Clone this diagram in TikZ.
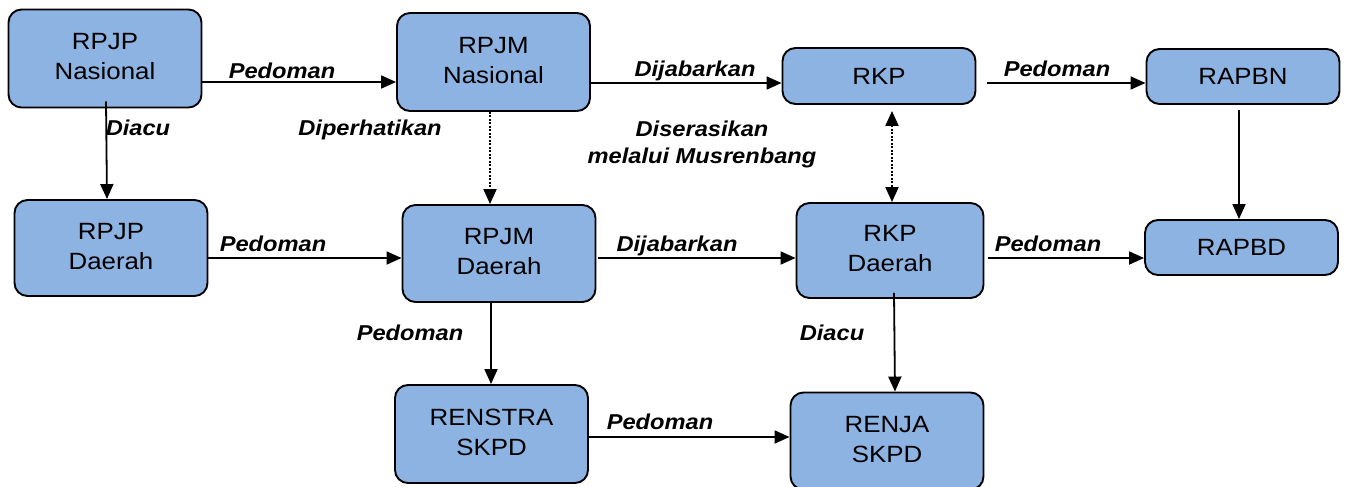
\documentclass[tikz,border=0pt]{standalone}
\usepackage{fontspec}
\setmainfont{Liberation Sans}
\usepackage{graphicx}
\usetikzlibrary{arrows.meta}
\definecolor{boxblue}{RGB}{141,179,226}
\newcommand{\bt}[2]{\scalebox{1.1}[1]{\begin{tabular}{@{}c@{}}#1\\#2\end{tabular}}}
\newcommand{\st}[1]{\scalebox{1.1}[1]{#1}}
\newcommand{\lt}[1]{\scalebox{1.1}[1]{#1}}
\tikzset{
  box/.style={draw=black, line width=1.9pt, rounded corners=13pt, fill=boxblue,
    minimum width=193pt, minimum height=98pt, inner sep=0pt,
    font=\fontsize{23.5}{30}\selectfont},
  lbl/.style={anchor=base, inner sep=0pt, font=\fontsize{21.5}{26}\selectfont\bfseries\itshape},
  arr/.style={line width=1.8pt, -{Triangle[length=15pt,width=13pt]}},
  dotarr/.style={line width=1.9pt, dash pattern=on 2pt off 1.5pt, -{Triangle[length=15pt,width=13pt]}},
  dotarr2/.style={line width=1.9pt, dash pattern=on 2pt off 1.5pt, {Triangle[length=15pt,width=13pt]}-{Triangle[length=15pt,width=13pt]}}
}
\begin{document}
\begin{tikzpicture}[x=1pt,y=-1pt]
\useasboundingbox (0,0) rectangle (1346,487);
% boxes
\node[box] (A) at (105,58.5) {\bt{RPJP}{Nasional}};
\node[box] (B) at (493.5,62) {\bt{RPJM}{Nasional}};
\node[box, minimum height=56pt] (C) at (879,76) {\st{RKP}};
\node[box, minimum height=55pt] (D) at (1243,76.5) {\st{RAPBN}};
\node[box, minimum height=96pt] (E) at (111,248) {\bt{RPJP}{Daerah}};
\node[box, minimum height=97pt] (F) at (499,253.5) {\bt{RPJM}{Daerah}};
\node[box, minimum width=187pt, minimum height=95pt] (G) at (890,250.5) {\bt{RKP}{Daerah}};
\node[box, minimum height=55pt] (H) at (1241.5,247.5) {\st{RAPBD}};
\node[box] (I) at (491.5,434) {\bt{RENSTRA}{SKPD}};
\node[box, minimum height=97pt] (J) at (887,441) {\bt{RENJA}{SKPD}};
% connectors
\draw[arr] ([yshift=-23.5pt]A.east) -- ([yshift=-20pt]B.west);
\draw[arr] ([xshift=1pt,yshift=7pt]A.south) -- ([xshift=-4pt]E.north);
\draw[arr] ([yshift=-21pt]B.east) -- ([yshift=-7pt]C.west);
\draw[arr] ([xshift=11pt,yshift=-7pt]C.east) -- ([yshift=-6.5pt]D.west);
\draw[dotarr] ([xshift=-3.5pt]B.south) -- ([xshift=-9pt]F.north);
\draw[dotarr2] ([xshift=13pt,yshift=-6pt]C.south) -- ([xshift=2pt]G.north);
\draw[arr] ([xshift=-4pt,yshift=-5pt]D.south) -- ([xshift=-2.5pt]H.north);
\draw[arr] ([yshift=-10pt]E.east) -- ([yshift=-4.5pt]F.west);
\draw[arr] ([xshift=2pt,yshift=-4.5pt]F.east) -- ([yshift=-7.5pt]G.west);
\draw[arr] ([xshift=3.5pt,yshift=-7.5pt]G.east) -- ([yshift=-10.5pt]H.west);
\draw[arr] ([xshift=-8pt]F.south) -- ([xshift=-0.5pt]I.north);
\draw[arr] ([xshift=4pt,yshift=6pt]G.south) -- ([xshift=8pt]J.north);
\draw[arr] ([yshift=-3pt]I.east) -- ([yshift=4pt]J.west);
% labels
\node[lbl] (l1) at (282,78) {\lt{Pedoman}};
\node[lbl] (l2) at (138,135) {\lt{Diacu}};
\node[lbl] (l3) at (370,135) {\lt{Diperhatikan}};
\node[lbl] (l4) at (695,77) {\lt{Dijabarkan}};
\node[lbl] (l5) at (1057,77) {\lt{Pedoman}};
\node[lbl] (l6) at (702,136) {\lt{Diserasikan}};
\node[lbl] (l7) at (702,163) {\lt{melalui Musrenbang}};
\node[lbl] (l8) at (273,251) {\lt{Pedoman}};
\node[lbl] (l9) at (677,251) {\lt{Dijabarkan}};
\node[lbl] (l10) at (1048,251) {\lt{Pedoman}};
\node[lbl] (l11) at (410,340) {\lt{Pedoman}};
\node[lbl] (l12) at (832,340) {\lt{Diacu}};
\node[lbl] (l13) at (660,429) {\lt{Pedoman}};
\end{tikzpicture}
\end{document}
